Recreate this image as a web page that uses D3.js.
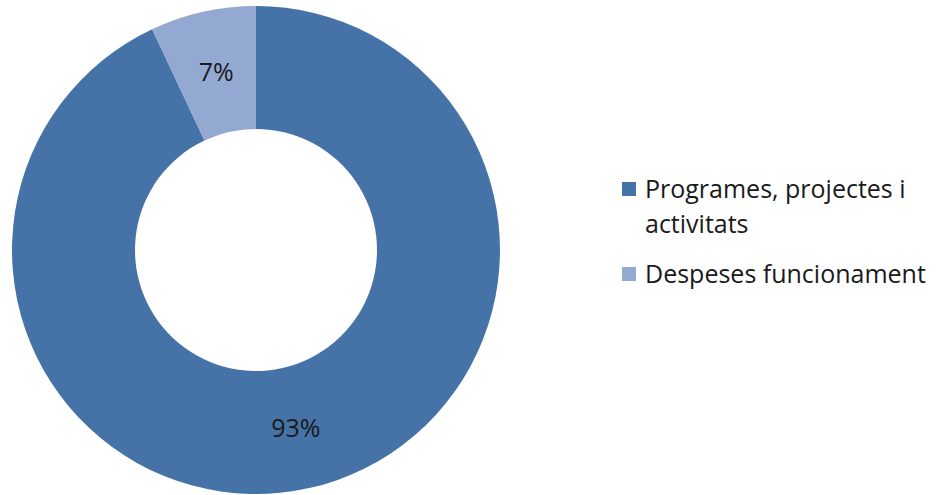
<!DOCTYPE html>
<html><head><meta charset="utf-8">
<script src="https://cdn.jsdelivr.net/npm/d3@7"></script>
<style>body{margin:0;background:#fff}svg{display:block}</style>
</head><body>
<svg id="c" width="944" height="495"></svg>
<script>
const categories = ["Programes, projectes i activitats", "Despeses funcionament"];
const values = [93, 7];
const labels = ["93%", "7%"];
const legendLines = [["Programes, projectes i", "activitats"], ["Despeses funcionament"]];
const colors = ["#4573A7", "#94A9D2"];

const FONT = "'Open Sans', Lato, sans-serif";
const svg = d3.select("#c");
const cx = 256, cy = 250, rO = 244, rI = 121;
const g = svg.append("g").attr("transform", `translate(${cx},${cy})`);
const pie = d3.pie().sort(null).value(d => d)(values);
const arc = d3.arc().innerRadius(rI).outerRadius(rO);
g.selectAll("path").data(pie).join("path").attr("d", arc).attr("fill", (d,i) => colors[i]);
g.selectAll("text").data(pie).join("text")
  .attr("x", d => arc.centroid(d)[0]).attr("y", d => arc.centroid(d)[1])
  .attr("text-anchor", "middle").attr("dy", "0.35em")
  .attr("font-family", FONT).attr("font-size", 25)
  .attr("fill", "#1a1a1a").text((d,i) => labels[i]);

const lg = svg.append("g").attr("font-family", FONT).attr("font-size", 25).attr("fill", "#1a1a1a");
const legY = [198, 283];
categories.forEach((c, i) => {
  lg.append("rect").attr("x", 622).attr("y", legY[i] - 16).attr("width", 14).attr("height", 14).attr("fill", colors[i]);
  const t = lg.append("text").attr("x", 645).attr("y", legY[i]);
  legendLines[i].forEach((l, j) => t.append("tspan").attr("x", 645).attr("dy", j ? 35 : 0).text(l));
});
</script>
</body></html>
